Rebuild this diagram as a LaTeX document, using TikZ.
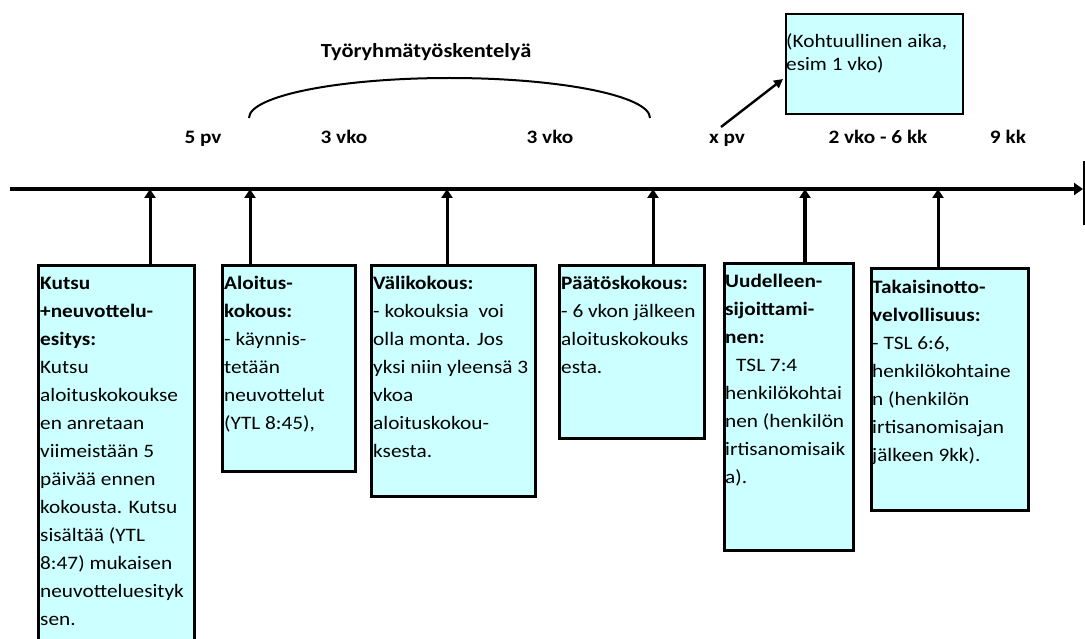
\documentclass[tikz,border=0pt]{standalone}
\usepackage{fontspec}
\setmainfont{Carlito}[FakeStretch=1.12]
\usetikzlibrary{arrows.meta}
\definecolor{boxfill}{HTML}{CCFFFF}
\newcommand\firstln{\rule{0pt}{25pt}}
\begin{document}
\begin{tikzpicture}[x=1pt,y=-1pt,
  box/.style={draw=black, line width=2.8pt, fill=boxfill, rectangle, inner sep=0pt, anchor=north west},
  txt/.style={align=left, inner sep=0pt, anchor=north west, font=\fontsize{19}{28}\selectfont},
  conn/.style={line width=3pt, -{Triangle[width=11pt,length=9pt]}},
  lbl/.style={font=\bfseries\fontsize{19}{22}\selectfont, anchor=base, inner sep=0pt},
  axisline/.style={line width=3.2pt, -{Triangle[width=12pt,length=9pt]}}
]
\useasboundingbox[fill=white] (0,0) rectangle (1085,639);

% axis
\coordinate (axL) at (10,189);
\coordinate (axR) at (1083,189);
\draw[axisline] (axL) -- (axR);
\coordinate (barT) at (1083.5,161);
\coordinate (barB) at (1083.5,225);
\draw[line width=2pt] (barT) -- (barB);

% axis points
\coordinate (a1) at (150,189);
\coordinate (a2) at (250,189);
\coordinate (a3) at (447,189);
\coordinate (a4) at (653,189);
\coordinate (a5) at (805,189);
\coordinate (a6) at (938,189);

% boxes
\node[box, minimum width=156pt, minimum height=400pt] (b1) at (37,264) {};
\node[box, minimum width=133pt, minimum height=206pt] (b2) at (221,264) {};
\node[box, minimum width=164pt, minimum height=231pt] (b3) at (370,264) {};
\node[box, minimum width=145pt, minimum height=173pt] (b4) at (558,264) {};
\node[box, minimum width=129pt, minimum height=287pt] (b5) at (723,262) {};
\node[box, minimum width=157pt, minimum height=242pt] (b6) at (870,267) {};

\node[txt] (t1) at ([xshift=3pt]b1.north west) {\firstln\textbf{Kutsu}\\ \textbf{+neuvottelu-}\\ \textbf{esitys:}\\ Kutsu\\ aloituskokoukse\\ en anretaan\\ viimeistään 5\\ päivää ennen\\ kokousta. Kutsu\\ sisältää (YTL\\ 8:47) mukaisen\\ neuvotteluesityk\\ sen.};
\node[txt] (t2) at ([xshift=3pt]b2.north west) {\firstln\textbf{Aloitus-}\\ \textbf{kokous:}\\ - käynnis-\\ tetään\\ neuvottelut\\ (YTL 8:45),};
\node[txt] (t3) at ([xshift=3pt]b3.north west) {\firstln\textbf{Välikokous:}\\ - kokouksia\ \ voi\\ olla monta. Jos\\ yksi niin yleensä 3\\ vkoa\\ aloituskokou-\\ ksesta.};
\node[txt] (t4) at ([xshift=3pt]b4.north west) {\firstln\textbf{Päätöskokous:}\\ - 6 vkon jälkeen\\ aloituskokouks\\ esta.};
\node[txt] (t5) at ([xshift=2pt]b5.north west) {\firstln\textbf{Uudelleen-}\\ \textbf{sijoittami-}\\ \textbf{nen:}\\ \hspace*{11pt}TSL 7:4\\ henkilökohtai\\ nen (henkilön\\ irtisanomisaik\\ a).};
\node[txt] (t6) at ([xshift=2pt,yshift=-1pt]b6.north west) {\firstln\textbf{Takaisinotto-}\\ \textbf{velvollisuus:}\\ - TSL 6:6,\\ henkilökohtaine\\ n (henkilön\\ irtisanomisajan\\ jälkeen 9kk).};

% connectors
\draw[conn] (b1.north -| a1) -- (a1);
\draw[conn] (b2.north -| a2) -- (a2);
\draw[conn] (b3.north -| a3) -- (a3);
\draw[conn] (b4.north -| a4) -- (a4);
\draw[conn, line width=4pt] (b5.north -| a5) -- (a5);
\draw[conn] (b6.north -| a6) -- (a6);

% top box
\node[box, line width=2.4pt, minimum width=177pt, minimum height=100pt] (tb) at (785,13) {};
\node[align=left, inner sep=0pt, anchor=base west, font=\fontsize{19}{23.5}\selectfont] (tbt) at (786,71) {(Kohtuullinen aika,\\ esim 1 vko)};
\coordinate (xtail) at (721,127);
\coordinate (xhead) at (783,79);
\draw[line width=2.4pt, -{Triangle[width=9pt,length=9pt]}] (xtail) -- (xhead);

% labels
\node[lbl] (l1) at (203,144) {5 pv};
\node[lbl] (l2) at (344,144) {3 vko};
\node[lbl] (l3) at (550,144) {3 vko};
\node[lbl] (l4) at (727,144) {x pv};
\node[lbl] (l5) at (878,144) {2 vko - 6 kk};
\node[lbl] (l6) at (1008,144) {9 kk};
\node[lbl, font=\bfseries\fontsize{20}{24}\selectfont] (title) at (426,58) {Työryhmätyöskentelyä};

% bracket arc
\coordinate (arcL) at (249,118);
\draw[line width=2pt] (arcL) arc[start angle=180, end angle=0, x radius=200.5pt, y radius=40pt];
\end{tikzpicture}
\end{document}
